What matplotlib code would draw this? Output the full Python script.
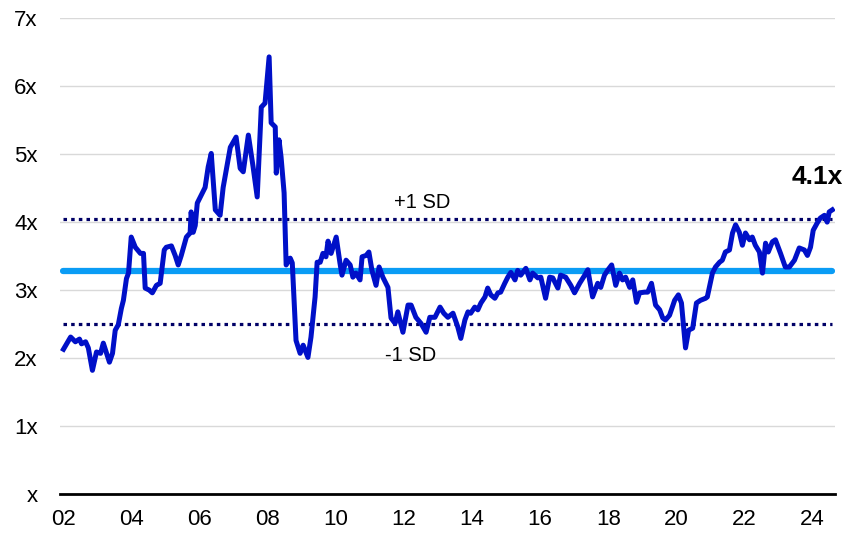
import matplotlib
matplotlib.use("Agg")
import matplotlib.pyplot as plt
import numpy as np

# forward P/E multiple (decimal years, multiple)
dates = [
    2002.00, 2002.21, 2002.35, 2002.47, 2002.53, 2002.65, 2002.73, 2002.85, 2002.97,
    2003.09, 2003.17, 2003.35, 2003.44, 2003.52, 2003.61, 2003.70, 2003.76, 2003.85,
    2003.91, 2003.99, 2004.11, 2004.26, 2004.35, 2004.40, 2004.52, 2004.61, 2004.73,
    2004.84, 2004.96, 2005.02, 2005.17, 2005.28, 2005.37, 2005.46, 2005.61, 2005.72,
    2005.75, 2005.81, 2005.87, 2005.93, 2006.02, 2006.16, 2006.25, 2006.34, 2006.46,
    2006.60, 2006.69, 2006.90, 2007.07, 2007.19, 2007.28, 2007.43, 2007.57, 2007.69,
    2007.81, 2007.92, 2008.04, 2008.10, 2008.22, 2008.25, 2008.33, 2008.39, 2008.48,
    2008.54, 2008.66, 2008.72, 2008.83, 2008.95, 2009.04, 2009.18, 2009.27, 2009.39,
    2009.45, 2009.54, 2009.62, 2009.71, 2009.77, 2009.86, 2010.01, 2010.12, 2010.18,
    2010.30, 2010.42, 2010.50, 2010.59, 2010.71, 2010.77, 2010.89, 2010.97, 2011.06,
    2011.18, 2011.27, 2011.38, 2011.53, 2011.62, 2011.74, 2011.82, 2011.97, 2012.12,
    2012.21, 2012.35, 2012.50, 2012.65, 2012.76, 2012.91, 2013.06, 2013.17, 2013.29,
    2013.44, 2013.58, 2013.67, 2013.79, 2013.88, 2013.96, 2014.08, 2014.17, 2014.26,
    2014.38, 2014.46, 2014.55, 2014.67, 2014.76, 2014.84, 2014.96, 2015.05, 2015.14,
    2015.26, 2015.34, 2015.43, 2015.58, 2015.70, 2015.78, 2015.93, 2016.02, 2016.16,
    2016.28, 2016.37, 2016.52, 2016.60, 2016.75, 2016.90, 2017.01, 2017.16, 2017.31,
    2017.40, 2017.54, 2017.69, 2017.78, 2017.89, 2017.98, 2018.10, 2018.22, 2018.33,
    2018.42, 2018.51, 2018.63, 2018.72, 2018.83, 2018.92, 2019.07, 2019.16, 2019.27,
    2019.39, 2019.51, 2019.60, 2019.68, 2019.80, 2019.95, 2020.06, 2020.15, 2020.27,
    2020.36, 2020.48, 2020.59, 2020.71, 2020.86, 2020.91, 2021.06, 2021.15, 2021.27,
    2021.35, 2021.44, 2021.56, 2021.65, 2021.74, 2021.85, 2021.94, 2022.03, 2022.15,
    2022.23, 2022.32, 2022.44, 2022.53, 2022.62, 2022.70, 2022.82, 2022.91, 2023.06,
    2023.20, 2023.32, 2023.47, 2023.61, 2023.76, 2023.85, 2023.94, 2024.02, 2024.14,
    2024.23, 2024.35, 2024.43, 2024.49, 2024.58,
]
pe = [
    2.13, 2.31, 2.24, 2.28, 2.21, 2.24, 2.15, 1.82, 2.09,
    2.07, 2.22, 1.94, 2.07, 2.41, 2.49, 2.73, 2.85, 3.17,
    3.25, 3.78, 3.63, 3.54, 3.54, 3.03, 3.00, 2.96, 3.07,
    3.10, 3.59, 3.63, 3.65, 3.51, 3.37, 3.51, 3.78, 3.84,
    4.15, 3.85, 3.95, 4.28, 4.37, 4.51, 4.81, 5.01, 4.18,
    4.10, 4.51, 5.10, 5.25, 4.79, 4.74, 5.28, 4.81, 4.37,
    5.69, 5.75, 6.43, 5.46, 5.40, 4.72, 5.21, 4.96, 4.43,
    3.37, 3.47, 3.40, 2.26, 2.07, 2.19, 2.01, 2.31, 2.90,
    3.41, 3.41, 3.54, 3.49, 3.72, 3.54, 3.78, 3.40, 3.22,
    3.44, 3.37, 3.19, 3.25, 3.15, 3.49, 3.51, 3.56, 3.29,
    3.07, 3.34, 3.19, 3.04, 2.59, 2.51, 2.68, 2.38, 2.78,
    2.78, 2.60, 2.51, 2.38, 2.60, 2.60, 2.75, 2.66, 2.60,
    2.66, 2.46, 2.29, 2.56, 2.68, 2.66, 2.75, 2.71, 2.81,
    2.90, 3.03, 2.93, 2.88, 2.96, 2.97, 3.10, 3.19, 3.26,
    3.15, 3.29, 3.22, 3.32, 3.15, 3.25, 3.18, 3.19, 2.88,
    3.19, 3.18, 3.03, 3.22, 3.19, 3.07, 2.96, 3.10, 3.22,
    3.30, 2.90, 3.10, 3.04, 3.22, 3.29, 3.37, 3.07, 3.25,
    3.15, 3.19, 3.04, 3.15, 2.82, 2.96, 2.97, 2.97, 3.10,
    2.78, 2.71, 2.59, 2.56, 2.63, 2.85, 2.93, 2.81, 2.15,
    2.41, 2.44, 2.81, 2.85, 2.88, 2.90, 3.25, 3.34, 3.41,
    3.44, 3.56, 3.59, 3.84, 3.96, 3.85, 3.66, 3.84, 3.74,
    3.78, 3.66, 3.56, 3.25, 3.69, 3.56, 3.71, 3.74, 3.54,
    3.34, 3.34, 3.44, 3.62, 3.59, 3.51, 3.63, 3.88, 3.99,
    4.06, 4.10, 4.00, 4.15, 4.18,
]

avg_pe = 3.28
sd_up = 4.05
sd_dn = 2.50
latest_label = "4.1x"

x_ticks = list(range(2002, 2025, 2))
x_labels = ["%02d" % (y % 100) for y in x_ticks]
y_ticks = list(range(0, 8))
y_labels = ["x"] + ["%dx" % v for v in y_ticks[1:]]

plt.rcParams['font.family'] = ['Liberation Sans', 'DejaVu Sans']

fig = plt.figure(figsize=(8.46, 5.33), dpi=100)
ax = fig.add_axes([0.071, 0.073, 0.916, 0.893])

# light horizontal grid
for v in y_ticks[1:]:
    ax.axhline(v, color='#d9d9d9', lw=1.0, zorder=0)

x0, x1 = dates[0], dates[-1]
ax.plot([x0, x1], [sd_up, sd_up], color='#000066', lw=2.3,
        linestyle=(0, (1.1, 1.3)), dash_capstyle='butt', zorder=2)
ax.plot([x0, x1], [sd_dn, sd_dn], color='#000066', lw=2.3,
        linestyle=(0, (1.1, 1.3)), dash_capstyle='butt', zorder=2)
ax.plot([x0, x1], [avg_pe, avg_pe], color='#0a9cf5', lw=4.5,
        solid_capstyle='round', zorder=3)

ax.plot(dates, pe, color='#0010c8', lw=3.6, solid_joinstyle='round', zorder=4)

ax.text(2012.55, 4.29, "+1 SD", ha='center', va='center', fontsize=14.5)
ax.text(2012.2, 2.04, "-1 SD", ha='center', va='center', fontsize=14.5)
ax.text(2024.15, 4.67, latest_label, ha='center', va='center',
        fontsize=19, fontweight='bold')

ax.set_xlim(2001.9, 2024.66)
ax.set_ylim(0, 7)
ax.set_xticks(x_ticks)
ax.set_xticklabels(x_labels)
ax.set_yticks(y_ticks)
ax.set_yticklabels(y_labels)
ax.tick_params(axis='both', length=0, labelsize=16, colors='black')
ax.tick_params(axis='y', pad=16)
ax.tick_params(axis='x', pad=11)

for s in ['top', 'right', 'left']:
    ax.spines[s].set_visible(False)
ax.spines['bottom'].set_linewidth(2.0)
ax.spines['bottom'].set_color('black')

fig.savefig("out.png", dpi=100)
